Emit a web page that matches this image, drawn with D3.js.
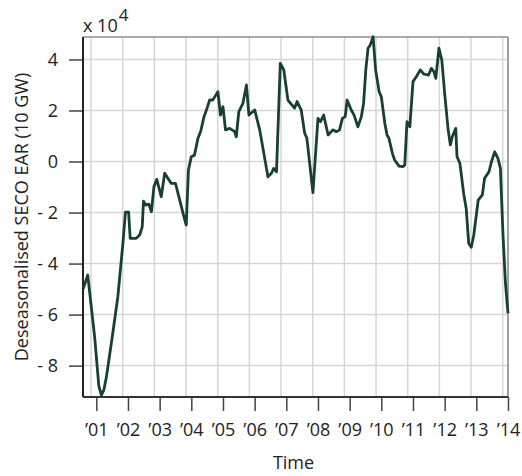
<!DOCTYPE html>
<html>
<head>
<meta charset="utf-8">
<script src="https://cdn.jsdelivr.net/npm/d3@7"></script>
<style>
  body { margin: 0; background: #fff; }
  text { font-family: "Open Sans", sans-serif; fill: #222; }
</style>
</head>
<body>
<svg id="chart" width="522" height="476"></svg>
<script>
// Deseasonalised SECO EAR, in units of 10^4 (10 GW)
const times = [
  2000.58, 2000.73, 2000.95, 2001.08, 2001.16, 2001.24, 2001.32, 2001.52, 2001.68, 2001.84, 2001.92, 2002.02, 2002.07,
  2002.26, 2002.37, 2002.45, 2002.49, 2002.56, 2002.66, 2002.74, 2002.82, 2002.91, 2003.05,
  2003.16, 2003.26, 2003.37, 2003.50, 2003.58, 2003.74, 2003.84, 2003.91, 2004.00, 2004.10,
  2004.21, 2004.30, 2004.40, 2004.50, 2004.58, 2004.68, 2004.84, 2004.92, 2005.00, 2005.08,
  2005.21, 2005.37, 2005.42, 2005.50, 2005.63, 2005.74, 2005.82, 2006.00, 2006.16, 2006.42,
  2006.53, 2006.60, 2006.69, 2006.81, 2006.92, 2007.05, 2007.26, 2007.34, 2007.47, 2007.58,
  2007.65, 2007.84, 2008.00, 2008.08, 2008.18, 2008.32, 2008.47, 2008.58, 2008.68, 2008.77,
  2008.86, 2008.92, 2009.05, 2009.14, 2009.26, 2009.37, 2009.44, 2009.51, 2009.58, 2009.65,
  2009.74, 2009.82, 2009.93, 2010.00, 2010.11, 2010.18, 2010.24, 2010.35, 2010.42, 2010.56,
  2010.68, 2010.74, 2010.81, 2010.90, 2011.00, 2011.11, 2011.23, 2011.34, 2011.49, 2011.58,
  2011.66, 2011.72, 2011.82, 2011.91, 2012.00, 2012.11, 2012.18, 2012.24, 2012.35, 2012.39,
  2012.48, 2012.60, 2012.68, 2012.76, 2012.84, 2012.92, 2013.06, 2013.19, 2013.26, 2013.40,
  2013.48, 2013.58, 2013.68, 2013.76, 2013.84, 2013.92, 2014.00
]
const values = [
  -5.01, -4.45, -6.90, -8.80, -9.16, -8.95, -8.44, -6.73, -5.30, -3.21, -1.98, -1.98, -3.01,
  -3.01, -2.88, -2.56, -1.55, -1.71, -1.67, -1.97, -0.99, -0.70, -1.38,
  -0.46, -0.66, -0.86, -0.86, -1.25, -2.03, -2.49, -0.33, 0.19, 0.25,
  0.91, 1.20, 1.75, 2.10, 2.41, 2.41, 2.74, 1.82, 2.15, 1.24,
  1.30, 1.17, 0.97, 1.95, 2.28, 3.00, 1.82, 2.02, 1.24, -0.60,
  -0.46, -0.27, -0.40, 3.85, 3.59, 2.41, 2.09, 2.35, 2.02, 1.11,
  0.91, -1.22, 1.69, 1.56, 1.82, 1.04, 1.24, 1.17, 1.24, 1.69,
  1.76, 2.41, 2.02, 1.82, 1.36, 1.76, 2.28, 3.59, 4.44, 4.57,
  4.89, 3.59, 2.74, 2.54, 1.50, 1.04, 0.91, 0.32, 0.06, -0.18,
  -0.20, -0.14, 1.56, 1.36, 3.13, 3.33, 3.59, 3.43, 3.39, 3.65,
  3.52, 3.26, 4.44, 3.98, 2.67, 1.24, 0.65, 0.97, 1.30, 0.19,
  -0.07, -1.25, -1.84, -3.21, -3.36, -2.88, -1.51, -1.31, -0.66, -0.40,
  0.00, 0.38, 0.13, -0.27, -2.82, -4.78, -5.95
]
const yearTicks = [2001, 2002, 2003, 2004, 2005, 2006, 2007, 2008, 2009, 2010, 2011, 2012, 2013, 2014]
const valueTicks = [4, 2, 0, -2, -4, -6, -8]

const svg = d3.select("#chart")
const width = 522, height = 476
const margin = {top: 37, right: 14, bottom: 79, left: 83}
const innerW = width - margin.left - margin.right
const innerH = height - margin.top - margin.bottom

const x = d3.scaleLinear().domain([2000.58, 2014]).range([0, innerW])
const y = d3.scaleLinear().domain([-9.23, 4.88]).range([innerH, 0])

const g = svg.append("g").attr("transform", "translate(" + margin.left + "," + margin.top + ")")

// grid - the vertical lines sit a couple of months before the year ticks
const gridShift = 2 / 12
g.append("g").selectAll("line")
  .data(yearTicks)
  .enter().append("line")
  .attr("x1", d => x(d - gridShift)).attr("x2", d => x(d - gridShift))
  .attr("y1", 0).attr("y2", innerH)
  .attr("stroke", "#d6d6d6").attr("stroke-width", 1.5)

g.append("g").selectAll("line")
  .data(valueTicks)
  .enter().append("line")
  .attr("x1", 0).attr("x2", innerW)
  .attr("y1", d => y(d)).attr("y2", d => y(d))
  .attr("stroke", "#d6d6d6").attr("stroke-width", 1.5)

// frame top and right
g.append("line").attr("x1", 0).attr("x2", innerW).attr("y1", 0).attr("y2", 0)
  .attr("stroke", "#8c8c8c").attr("stroke-width", 1.5)
g.append("line").attr("x1", innerW).attr("x2", innerW).attr("y1", 0).attr("y2", innerH)
  .attr("stroke", "#a0a0a0").attr("stroke-width", 2)

// axes
const xAxis = d3.axisBottom(x)
  .tickValues(yearTicks)
  .tickSize(14)
  .tickPadding(12)
  .tickFormat(d => "\u2019" + String(d).slice(2))
const gx = g.append("g").attr("transform", "translate(0," + innerH + ")").call(xAxis)

const yAxis = d3.axisLeft(y)
  .tickValues(valueTicks)
  .tickSize(14)
  .tickPadding(11)
  .tickFormat(d => d < 0 ? "- " + (-d) : String(d))
const gy = g.append("g").call(yAxis)

for (const ax of [gx, gy]) {
  ax.select(".domain").remove()
  ax.selectAll(".tick line").attr("stroke", "#444").attr("stroke-width", 1.5)
  ax.selectAll(".tick text").attr("font-size", 18).style("fill", "#222")
}
g.append("line").attr("x1", 0).attr("x2", 0).attr("y1", 0).attr("y2", innerH)
  .attr("stroke", "#222").attr("stroke-width", 2)
g.append("line").attr("x1", 0).attr("x2", innerW).attr("y1", innerH).attr("y2", innerH)
  .attr("stroke", "#333").attr("stroke-width", 2)

// the series, straight segments like the original
const line = d3.line()
  .x((d, i) => x(times[i]))
  .y(d => y(d))
g.append("path")
  .datum(values)
  .attr("fill", "none")
  .attr("stroke", "#183f33")
  .attr("stroke-width", 2.8)
  .attr("stroke-linejoin", "round")
  .attr("d", line)

// labels
const exp = svg.append("text").attr("x", margin.left).attr("y", 32).attr("font-size", 18)
exp.append("tspan").text("x 10")
exp.append("tspan").attr("dy", -11).attr("dx", 1).attr("font-size", 17).text("4")

svg.append("text")
  .attr("x", margin.left + innerW / 2 - 2).attr("y", 469)
  .attr("text-anchor", "middle").attr("font-size", 18)
  .text("Time")

svg.append("text")
  .attr("transform", "translate(28," + (margin.top + innerH / 2) + ") rotate(-90)")
  .attr("text-anchor", "middle").attr("font-size", 18)
  .text("Deseasonalised SECO EAR (10 GW)")
</script>
</body>
</html>
